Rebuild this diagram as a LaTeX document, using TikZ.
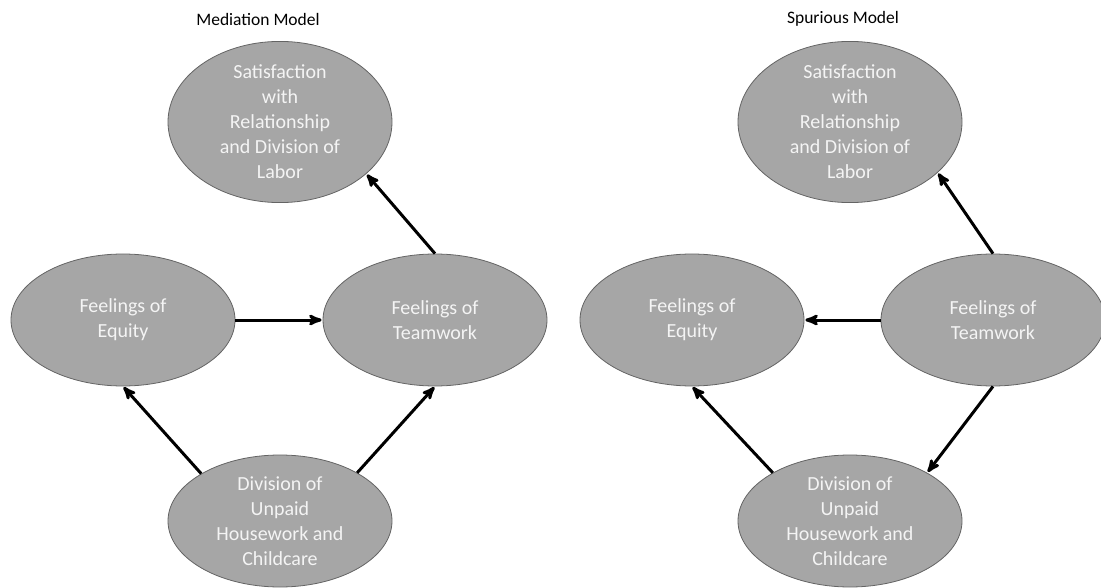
\documentclass[tikz,border=0pt]{standalone}
\usepackage{fontspec}
\setmainfont{Carlito}
\usetikzlibrary{arrows,shapes.geometric}

\definecolor{varfill}{RGB}{166,166,166}
\definecolor{varline}{RGB}{100,100,100}
\definecolor{vartext}{RGB}{244,244,244}

\begin{document}
\begin{tikzpicture}[x=1pt,y=-1pt,->,>=stealth',shorten >=1pt,line width=3pt,
  var node/.style={ellipse,fill=varfill,draw=varline,line width=0.8pt,
    minimum width=224pt,minimum height=132pt,inner sep=0pt,align=center,
    text=vartext,font=\fontsize{20}{25}\selectfont},
  title node/.style={font=\fontsize{17.5}{21}\selectfont}]

  \useasboundingbox (0,0) rectangle (1101,588);

  % mediation model
  \node[title node] (TitleM) at (258,19) {Mediation Model};
  \node[var node] (SatM) at (280,122) {Satisfaction\\with\\Relationship\\and Division of\\Labor};
  \node[var node] (EqM) at (123,320) {Feelings of\\Equity};
  \node[var node] (TmM) at (435,320) {Feelings of\\Teamwork};
  \node[var node] (DivM) at (280,521) {Division of\\Unpaid\\Housework and\\Childcare};

  % spurious model
  \node[title node] (TitleS) at (843,19) {Spurious Model};
  \node[var node] (SatS) at (850,122) {Satisfaction\\with\\Relationship\\and Division of\\Labor};
  \node[var node] (EqS) at (692,320) {Feelings of\\Equity};
  \node[var node] (TmS) at (993,320) {Feelings of\\Teamwork};
  \node[var node] (DivS) at (850,521) {Division of\\Unpaid\\Housework and\\Childcare};

  \path
    (EqM) edge (TmM)
    (TmM.north) edge (SatM.-31)
    (DivM.149) edge (EqM.south)
    (DivM.32) edge (TmM.south)
    (TmS.west) edge (EqS.east)
    (TmS.north) edge (SatS.-30)
    (TmS.south) edge (DivS.32)
    (DivS.148) edge (EqS.south);
\end{tikzpicture}
\end{document}
